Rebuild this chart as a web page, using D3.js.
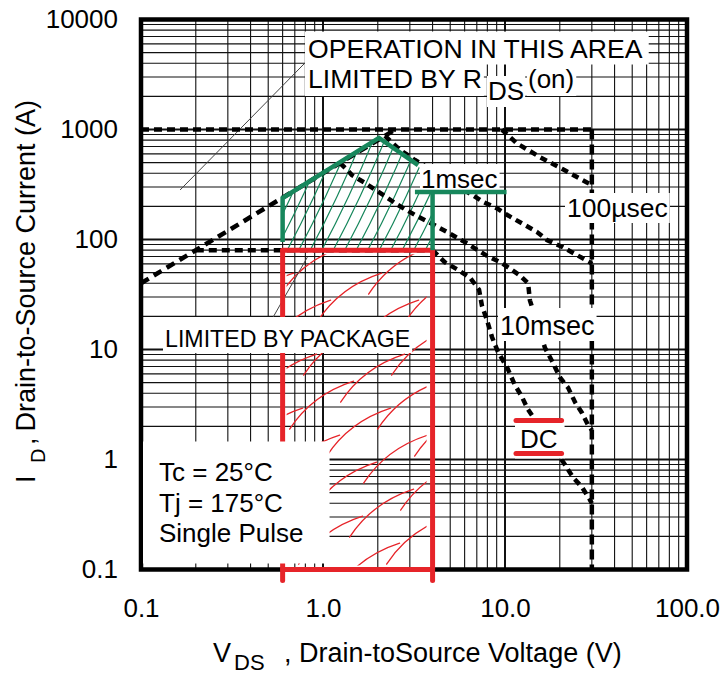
<!DOCTYPE html>
<html>
<head>
<meta charset="utf-8">
<script src="https://cdn.jsdelivr.net/npm/d3@7"></script>
<style>
  html, body { margin: 0; padding: 0; background: #fff; }
  svg { display: block; font-family: "Liberation Sans", Arial, Helvetica, sans-serif; }
</style>
</head>
<body>
<svg id="chart" width="726" height="675"></svg>
<script>
// ---- Axis ticks ----
const xTicks = [0.1, 1, 10, 100];
const xTickLabels = ["0.1", "1.0", "10.0", "100.0"];
const yTicks = [0.1, 1, 10, 100, 1000, 10000];
const yTickLabels = ["0.1", "1", "10", "100", "1000", "10000"];

// ---- Boundary lines (VDS in V, ID in A) ----
const rdsV = [0.1, 2.5];            // RDS(on) limit
const rdsI = [40, 1000];
const pulseV = [0.1, 30];           // pulsed current limit
const pulseI = [1000, 1000];
const pkgV = [0.2, 4];              // package limit
const pkgI = [80, 80];
const bvV = [30, 30];               // breakdown voltage
const bvI = [1000, 0.1];

// ---- Pulse-width curves ----
const us100V = [9.6, 11.6, 15.6, 20.8, 28.2, 30];
const us100I = [1000, 750, 560, 435, 330, 315];
const ms1V = [2.19, 2.65, 3.2, 6.6, 7.6, 9.0, 10.3, 15, 17, 20.8, 29.3, 30];
const ms1I = [876, 652, 528, 254, 219, 193, 167, 117, 99, 85, 62, 60];
const ms10V = [1.24, 1.36, 1.44, 1.70, 2.14, 2.58, 3.2, 3.87, 4.8, 5.87, 7.96, 9.63, 10.9, 12.1, 13.4, 13.7,
               16.6, 18.4, 20, 22.2, 24.3, 26.5, 28.6, 30];
const ms10I = [496, 429, 385, 327, 254, 206, 167, 142, 117, 97, 71, 61, 53, 47, 40, 28,
               10.3, 7.5, 5.6, 4.5, 3.3, 2.65, 2.06, 1.85];
const dcV = [4, 4.68, 5.52, 6.42, 7.2, 7.47, 7.96, 8.48, 9.15, 10.3, 11.3, 12.4, 13.3, 21.4, 23.6, 26.5, 29.3, 30];
const dcI = [80, 62, 53, 45, 35, 25, 18.5, 13, 9.5, 6.8, 4.8, 3.7, 2.9, 0.89, 0.69, 0.56, 0.43, 0.40];

// ---- Hand-marked regions ----
const redV = [0.6, 4];              // package-limited box
const redI = [80, 0.1];
const greenV = [0.6, 0.6, 2.03, 3.33];
const greenI = [95, 238, 838, 475];
const greenBarV = [3.2, 10.2];
const greenBarI = [270, 270];
const greenPostV = [4, 4];
const greenPostI = [270, 80];

// ---- Leader lines ----
const lead1V = [0.164, 0.796];
const lead1I = [282, 4025];
const lead2V = [0.51, 0.82];
const lead2I = [17.4, 69];

// ---- Layout ----
const W = 726, H = 675;
const plot = { left: 141, right: 687, top: 19.5, bottom: 569.5 };
const RED = "#e62429", GREEN = "#17875c", FONT = "Liberation Sans, Arial, sans-serif";

const x = d3.scaleLog().domain([0.1, 100]).range([plot.left, plot.right]);
const y = d3.scaleLog().domain([0.1, 10000]).range([plot.bottom, plot.top]);

const svg = d3.select("#chart");
svg.append("rect").attr("width", W).attr("height", H).attr("fill", "#fff");
const defs = svg.append("defs");

const line = d3.line().x(d => x(d[0])).y(d => y(d[1]));
const pts = (vs, is) => vs.map((v, i) => [v, is[i]]);

// ---- Log grid ----
const gridX = [], gridY = [];
[0.1, 1, 10].forEach(d => { for (let k = 1; k <= 9; k++) gridX.push({ v: d * k, major: k === 1 }); });
gridX.push({ v: 100, major: true });
[0.1, 1, 10, 100, 1000].forEach(d => { for (let k = 1; k <= 9; k++) gridY.push({ v: d * k, major: k === 1 }); });
gridY.push({ v: 10000, major: true });

const grid = svg.append("g");
grid.selectAll("line.gx").data(gridX).join("line")
  .attr("x1", d => x(d.v)).attr("x2", d => x(d.v))
  .attr("y1", plot.top).attr("y2", plot.bottom)
  .attr("stroke", "#111").attr("stroke-width", d => d.major ? 2 : 1.1);
grid.selectAll("line.gy").data(gridY).join("line")
  .attr("y1", d => y(d.v)).attr("y2", d => y(d.v))
  .attr("x1", plot.left).attr("x2", plot.right)
  .attr("stroke", "#111").attr("stroke-width", d => d.major ? 2 : 1.1);

// ---- Hatching ----
const greenRegion = pts(greenV, greenI).concat([[4, 270], [4, 80], [0.6, 80]]);
defs.append("clipPath").attr("id", "gclip")
  .append("path").attr("d", line(greenRegion) + "Z");
const gh = svg.append("g").attr("clip-path", "url(#gclip)")
  .attr("fill", "none").attr("stroke", GREEN).attr("stroke-width", 1.2);
{
  const yb = y(80) + 4, yt = y(900);
  for (let i = 0; i < 26; i++) {
    const x0 = x(0.6) - 55 + i * 11.5;
    gh.append("path").attr("d",
      `M${x0},${yb} Q${x0 + 30},${(yb + yt) / 2 + 4} ${x0 + 56},${yt}`);
  }
}

defs.append("clipPath").attr("id", "rclip").append("rect")
  .attr("x", x(redV[0]) + 4).attr("y", y(redI[0]) + 4)
  .attr("width", x(redV[1]) - x(redV[0]) - 10).attr("height", y(redI[1]) - y(redI[0]) - 8);
const rh = svg.append("g").attr("clip-path", "url(#rclip)")
  .attr("fill", "none").attr("stroke", RED).attr("stroke-width", 1.3).attr("stroke-linecap", "round");
{
  // parallel freehand-style strokes; translated copies of one curve never cross
  const x0 = x(redV[0]), y0 = y(redI[0]);
  const dx = 64, dy = 48;
  for (let r = 0; r < 12; r++) {
    const yb = y0 + 44 + r * 27;
    for (let c = -1; c < 2; c++) {
      const xs = x0 - 2 + c * 88 + ((r * 37) % 88);
      rh.append("path").attr("d",
        `M${xs},${yb} Q${xs + dx * 0.35},${yb - dy * 0.72} ${xs + dx},${yb - dy}`);
    }
  }
}

// ---- Leader lines ----
svg.append("path").attr("d", line(pts(lead1V, lead1I)))
  .attr("stroke", "#444").attr("stroke-width", 1).attr("fill", "none");
svg.append("path").attr("d", line(pts(lead2V, lead2I)))
  .attr("stroke", "#444").attr("stroke-width", 1).attr("fill", "none");

// ---- Dashed SOA boundaries ----
const dashed = svg.append("g").attr("fill", "none").attr("stroke", "#000").attr("stroke-width", 4.5);
dashed.append("path").attr("d", line(pts(pulseV, pulseI))).attr("stroke-dasharray", "8,5");
dashed.append("path").attr("d", line(pts(rdsV, rdsI))).attr("stroke-dasharray", "9,6");
dashed.append("path").attr("d", line(pts(pkgV, pkgI))).attr("stroke-dasharray", "8,5");
dashed.append("path").attr("d", line(pts(bvV, bvI))).attr("stroke-dasharray", "10,5");
[[us100V, us100I], [ms1V, ms1I], [ms10V, ms10I], [dcV, dcI]].forEach(([vs, is]) => {
  dashed.append("path").attr("d", line(pts(vs, is))).attr("stroke-dasharray", "7,5");
});

// ---- Frame ----
svg.append("rect")
  .attr("x", plot.left).attr("y", plot.top)
  .attr("width", plot.right - plot.left).attr("height", plot.bottom - plot.top)
  .attr("fill", "none").attr("stroke", "#000").attr("stroke-width", 4.5);

// ---- Package-limited box (red) ----
const red = svg.append("g").attr("stroke", RED).attr("stroke-width", 5).attr("stroke-linecap", "round");
const capBelow = 11;
red.append("line").attr("x1", x(redV[0])).attr("x2", x(redV[0]))
  .attr("y1", y(redI[0])).attr("y2", y(redI[1]) + capBelow);
red.append("line").attr("x1", x(redV[1])).attr("x2", x(redV[1]))
  .attr("y1", y(redI[0])).attr("y2", y(redI[1]) + capBelow);
red.append("line").attr("x1", x(redV[0])).attr("x2", x(redV[1]))
  .attr("y1", y(redI[0])).attr("y2", y(redI[0]));
red.append("line").attr("x1", x(redV[0])).attr("x2", x(redV[1]))
  .attr("y1", y(redI[1])).attr("y2", y(redI[1]));

// ---- Text labels with white backing ----
const bgLayer = svg.append("g");
const txtLayer = svg.append("g").attr("fill", "#000");
function addLabel(lines, size, pad) {
  const t = txtLayer.append("text").attr("font-family", FONT).attr("font-size", size);
  lines.forEach(l => t.append("tspan").attr("x", l.x).attr("y", l.y).text(l.text));
  const bb = t.node().getBBox();
  bgLayer.append("rect")
    .attr("x", bb.x - pad[0]).attr("y", bb.y - pad[1])
    .attr("width", bb.width + pad[0] + pad[2]).attr("height", bb.height + pad[1] + pad[3])
    .attr("fill", "#fff");
  return bb;
}
addLabel([{ x: 308, y: 57.5, text: "OPERATION IN THIS AREA" }], 26.6, [3, 2, 6, 1]);
addLabel([{ x: 308, y: 88, text: "LIMITED BY R" }], 26.6, [3, 0, 2, 2]);
addLabel([{ x: 488, y: 100, text: "DS" }], 26, [1, 0, 1, 1]);
addLabel([{ x: 528, y: 88, text: "(on)" }], 26, [1, 0, 2, 2]);
addLabel([{ x: 421, y: 188, text: "1msec" }], 26, [1, 0, 2, 0]);
addLabel([{ x: 567, y: 217, text: "100µsec" }], 26.5, [2, 0, 2, 0]);
addLabel([{ x: 500, y: 335, text: "10msec" }], 27, [2, 3, 2, 0]);
const dcBox = addLabel([{ x: 520, y: 448, text: "DC" }], 26, [5, 6, 7, 4.5]);
addLabel([{ x: 165, y: 347, text: "LIMITED BY PACKAGE" }], 23.2, [2, 9, 2, 1]);
addLabel([
  { x: 159, y: 481, text: "Tc = 25°C" },
  { x: 159, y: 512, text: "Tj = 175°C" },
  { x: 159, y: 542, text: "Single Pulse" }
], 26, [16, 15.5, 26, 15.5]);

// ---- Safe-operating-area outline (green) ----
const green = svg.append("g").attr("fill", "none").attr("stroke", GREEN)
  .attr("stroke-width", 4.5).attr("stroke-linejoin", "miter").attr("stroke-linecap", "butt");
green.append("path").attr("d", line(pts(greenV, greenI)));
green.append("path").attr("d", line(pts(greenBarV, greenBarI)));
green.append("path").attr("d", line(pts(greenPostV, greenPostI)));

// ---- DC bracket bars ----
const dcBars = svg.append("g").attr("stroke", RED).attr("stroke-width", 5).attr("stroke-linecap", "round");
[dcBox.y - 3.5, dcBox.y + dcBox.height - 0.5].forEach(yy => {
  dcBars.append("line").attr("x1", dcBox.x - 4).attr("x2", dcBox.x + dcBox.width + 4)
    .attr("y1", yy).attr("y2", yy);
});

// ---- Axes ----
const xAxis = d3.axisBottom(x).tickValues(xTicks)
  .tickFormat((d, i) => xTickLabels[i]).tickSize(0).tickPadding(29);
svg.append("g").attr("transform", `translate(0,${plot.bottom})`).call(xAxis)
  .call(g => g.select(".domain").remove())
  .attr("font-family", FONT).attr("font-size", 26);

const yAxis = d3.axisLeft(y).tickValues(yTicks)
  .tickFormat((d, i) => yTickLabels[i]).tickSize(0).tickPadding(23);
svg.append("g").attr("transform", `translate(${plot.left},0)`).call(yAxis)
  .call(g => g.select(".domain").remove())
  .attr("font-family", FONT).attr("font-size", 26);

// ---- Axis titles ----
const xt = svg.append("g").attr("font-family", FONT).attr("fill", "#000");
xt.append("text").attr("x", 213).attr("y", 662).attr("font-size", 27).text("V");
xt.append("text").attr("x", 234).attr("y", 670).attr("font-size", 22).text("DS");
xt.append("text").attr("x", 284).attr("y", 662).attr("font-size", 27).text(", Drain-toSource Voltage (V)");

const yt = svg.append("g").attr("font-family", FONT).attr("fill", "#000")
  .attr("transform", "rotate(-90)");
yt.append("text").attr("x", -483).attr("y", 35).attr("font-size", 27).text("I");
yt.append("text").attr("x", -463).attr("y", 45).attr("font-size", 20).text("D");
yt.append("text").attr("x", -445).attr("y", 35).attr("font-size", 27).text(",");
yt.append("text").attr("x", -100).attr("y", 35).attr("font-size", 27)
  .attr("text-anchor", "end").text("Drain-to-Source Current (A)");
</script>
</body>
</html>
